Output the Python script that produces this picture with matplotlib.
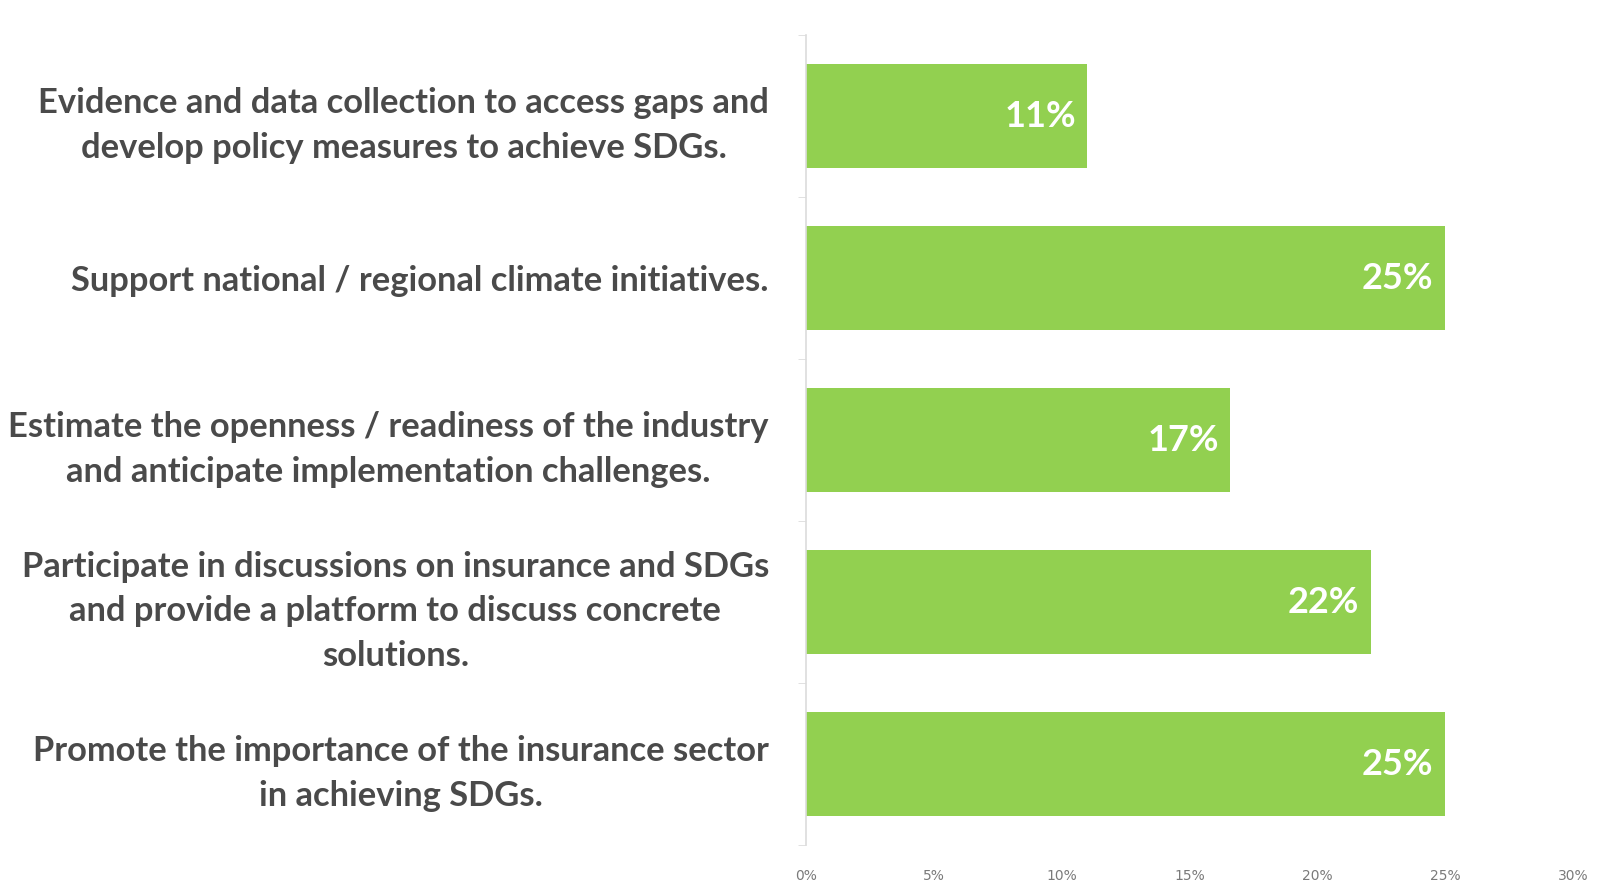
import matplotlib.pyplot as plt
from matplotlib.ticker import FuncFormatter

categories = [
    "Evidence and data collection to access gaps and\ndevelop policy measures to achieve SDGs.",
    "Support national / regional climate initiatives.",
    "Estimate the openness / readiness of the industry\nand anticipate implementation challenges.",
    "Participate in discussions on insurance and SDGs\nand provide a platform to discuss concrete\nsolutions.",
    "Promote the importance of the insurance sector\nin achieving SDGs.",
]
shares = [0.110, 0.250, 0.166, 0.221, 0.250]
x_ticks = [0.0, 0.05, 0.10, 0.15, 0.20, 0.25, 0.30]

bar_clr = "#92D050"
txt_clr = "#4a4a4a"
axis_clr = "#dcdcdc"

fig = plt.figure(figsize=(16, 8.83), dpi=100)
ax = fig.add_axes([0.504, 0.043, 0.479, 0.917])

ypos = list(range(len(categories)))
ax.barh(ypos, shares, height=0.64, color=bar_clr, zorder=2)

for y, v in zip(ypos, shares):
    ax.text(v - 0.0045, y, f"{round(v * 100):.0f}%", ha="right", va="center",
            color="white", fontsize=26, fontweight="bold", family="Lato")

ax.set_ylim(len(categories) - 0.5, -0.5)
ax.set_xlim(0, 0.30)

ax.set_yticks(ypos)
ax.set_yticklabels(categories, fontsize=24.8, fontweight="bold", color=txt_clr,
                   family="Lato", multialignment="center", linespacing=1.48)
ax.set_yticks([i - 0.5 for i in range(len(categories) + 1)], minor=True)
ax.tick_params(axis="y", which="major", length=0, pad=27)
ax.tick_params(axis="y", which="minor", length=6, color=axis_clr)

ax.set_xticks(x_ticks)
ax.xaxis.set_major_formatter(FuncFormatter(lambda v, _: f"{v * 100:.0f}%"))
ax.tick_params(axis="x", length=0, labelsize=10, labelcolor="#7a7a7a", pad=17)

for side in ["top", "right", "bottom"]:
    ax.spines[side].set_visible(False)
ax.spines["left"].set_color(axis_clr)
ax.spines["left"].set_linewidth(1.2)

fig.savefig("out.png", dpi=100, facecolor="white")
